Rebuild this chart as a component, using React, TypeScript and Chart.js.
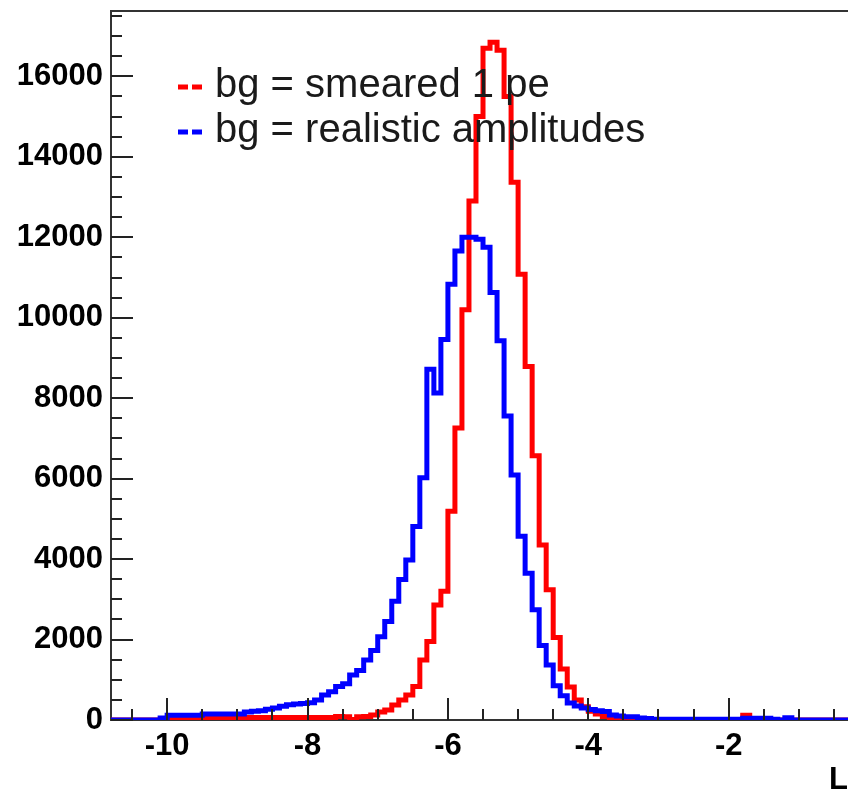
import React, { useEffect, useRef } from "react";
import { Chart, registerables } from "chart.js";

Chart.register(...registerables);

// Histogram binning (lower edge of first bin, bin width)
const HIST_X_MIN = -10.8;
const HIST_BIN_WIDTH = 0.1;

// bg = smeared 1 pe (red), one count per 0.1-wide bin starting at -10.8
const RED_COUNTS = [
  0, 0, 0, 0, 0, 0, 0, 0,
  25, 25, 25, 25, 25,
  60, 60, 60, 60, 60, 60, 60, 60, 60, 60, 60, 60, 60, 60, 60, 60, 60, 60, 60,
  90, 80, 10, 80, 90, 125, 200, 250, 370, 500, 620, 830,
  1490, 1950, 2860, 3200, 5190, 7260, 10200, 12900, 15000,
  16700, 16850, 16650, 15500, 13370, 11080, 8790, 6570, 4350, 3240,
  2050, 1270, 820, 500, 330, 220, 150, 90, 60, 20, 10, 0, 30, 30,
  0, 0, 0, 0, 0, 0, 0, 0, 0, 0, 0, 0, 0,
  120, 40,
  0, 0, 0, 0, 0, 0, 0, 0, 0, 0, 0, 0, 0,
];

// bg = realistic amplitudes (blue)
const BLUE_COUNTS = [
  0, 0, 0, 0, 0, 0, 0,
  50,
  120, 120, 120, 120, 120,
  150, 150, 150, 150, 150, 150,
  200, 220, 230, 270, 300, 340, 380, 400, 410,
  430, 500, 620, 700, 830, 900, 1120, 1230, 1490, 1730, 2070, 2450, 2950,
  3490, 3980, 4810, 6020, 8720, 8130, 9460, 10830, 11660,
  12000, 12000, 11950, 11750, 10630, 9430, 7560, 6090, 4570, 3650, 2740,
  1850, 1370, 850, 600, 420, 350, 300, 260, 230, 210, 125, 100, 80, 80, 50, 40,
  20, 20, 20, 20, 20, 20, 20, 20, 20, 20, 20, 20, 20,
  45, 45, 45, 45,
  20, 0, 55,
  0, 0, 0, 0, 0, 0, 0, 0,
];

const SERIES_LABELS = ["bg = smeared 1 pe", "bg = realistic amplitudes"];
const SERIES_COLORS = ["#ff0000", "#0000ff"];

const X_TICKS = [-10, -8, -6, -4, -2];
const Y_TICKS = [0, 2000, 4000, 6000, 8000, 10000, 12000, 14000, 16000];
const X_MINOR_STEP = 0.5;
const Y_MINOR_STEP = 500;
const X_RANGE = [-10.8, -0.3];
const Y_RANGE = [0, 17600];
const X_TITLE = "L";

const AXIS_FONT = { family: "'Liberation Sans', Arial, Helvetica, sans-serif", size: 31, weight: "bold" as const };

function toSteps(counts: number[]) {
  const pts = counts.map((c, i) => ({ x: HIST_X_MIN + i * HIST_BIN_WIDTH, y: c }));
  pts.push({ x: HIST_X_MIN + counts.length * HIST_BIN_WIDTH, y: counts[counts.length - 1] });
  return pts;
}

const rootStylePlugin = {
  id: "rootStyle",
  afterDatasetsDraw(chart: any) {
    const { ctx, chartArea, scales } = chart;
    const xs = scales.x;
    const ys = scales.y;
    ctx.save();
    // top frame
    ctx.strokeStyle = "#333";
    ctx.lineWidth = 2;
    ctx.beginPath();
    ctx.moveTo(chartArea.left - 1, chartArea.top - 1);
    ctx.lineTo(chartArea.right, chartArea.top - 1);
    ctx.stroke();

    // ticks (inside)
    ctx.strokeStyle = "#222";
    ctx.lineWidth = 2;
    const majorLen = 22;
    const minorLen = 11;
    ctx.beginPath();
    const xStart = Math.ceil(xs.min / X_MINOR_STEP) * X_MINOR_STEP;
    for (let v = xStart; v <= xs.max + 1e-9; v += X_MINOR_STEP) {
      const isMajor = X_TICKS.some((t) => Math.abs(t - v) < 1e-6);
      const px = Math.round(xs.getPixelForValue(v));
      ctx.moveTo(px, chartArea.bottom);
      ctx.lineTo(px, chartArea.bottom - (isMajor ? majorLen : minorLen));
    }
    for (let v = 0; v <= ys.max + 1e-9; v += Y_MINOR_STEP) {
      const isMajor = Y_TICKS.some((t) => Math.abs(t - v) < 1e-6);
      const py = Math.round(ys.getPixelForValue(v));
      ctx.moveTo(chartArea.left, py);
      ctx.lineTo(chartArea.left + (isMajor ? majorLen : minorLen), py);
    }
    ctx.stroke();

    // legend
    const lx = chartArea.left + 67;
    const ly = chartArea.top + 75;
    const lineGap = 45;
    SERIES_LABELS.forEach((label, i) => {
      const y = ly + i * lineGap;
      ctx.strokeStyle = SERIES_COLORS[i];
      ctx.lineWidth = 5;
      ctx.setLineDash([10, 4]);
      ctx.beginPath();
      ctx.moveTo(lx, y);
      ctx.lineTo(lx + 24, y);
      ctx.stroke();
      ctx.setLineDash([]);
      ctx.fillStyle = "#1a1a1a";
      ctx.font = "40px 'Liberation Sans', Arial, Helvetica, sans-serif";
      ctx.textBaseline = "alphabetic";
      ctx.textAlign = "left";
      ctx.fillText(label, lx + 37, y + 10);
    });
    ctx.restore();
  },
};

export default function App() {
  const canvasRef = useRef<HTMLCanvasElement | null>(null);

  useEffect(() => {
    const canvas = canvasRef.current;
    if (!canvas) return;
    const chart = new Chart(canvas, {
      type: "line",
      data: {
        datasets: [
          {
            label: SERIES_LABELS[0],
            data: toSteps(RED_COUNTS),
            borderColor: SERIES_COLORS[0],
            borderWidth: 5,
            pointRadius: 0,
            stepped: true,
            fill: false,
            order: 1,
          },
          {
            label: SERIES_LABELS[1],
            data: toSteps(BLUE_COUNTS),
            borderColor: SERIES_COLORS[1],
            borderWidth: 5,
            pointRadius: 0,
            stepped: true,
            fill: false,
            order: 0,
          },
        ],
      },
      options: {
        animation: false,
        responsive: false,
        maintainAspectRatio: false,
        devicePixelRatio: 1,
        layout: { padding: { top: 12, right: 0, bottom: 0, left: 0 } },
        plugins: { legend: { display: false }, tooltip: { enabled: false } },
        scales: {
          x: {
            type: "linear",
            min: X_RANGE[0],
            max: X_RANGE[1],
            afterBuildTicks: (s: any) => {
              s.ticks = X_TICKS.map((v) => ({ value: v }));
            },
            afterFit: (s: any) => {
              s.height = 74;
              s.paddingLeft = 0;
              s.paddingRight = 0;
              s.paddingTop = 0;
              s.paddingBottom = 0;
            },
            grid: { display: false, drawTicks: false },
            border: { display: true, color: "#333", width: 2 },
            ticks: {
              font: AXIS_FONT,
              color: "#000",
              padding: 8,
              maxRotation: 0,
              autoSkip: false,
              callback: (v: any) => String(v),
            },
            title: {
              display: true,
              text: X_TITLE,
              align: "end",
              color: "#000",
              font: AXIS_FONT,
              padding: { top: 0, bottom: -5 },
            },
          },
          y: {
            type: "linear",
            min: Y_RANGE[0],
            max: Y_RANGE[1],
            afterBuildTicks: (s: any) => {
              s.ticks = Y_TICKS.map((v) => ({ value: v }));
            },
            afterFit: (s: any) => {
              s.width = 111;
              s.paddingLeft = 0;
              s.paddingRight = 0;
              s.paddingTop = 0;
              s.paddingBottom = 0;
            },
            grid: { display: false, drawTicks: false },
            border: { display: true, color: "#333", width: 2 },
            ticks: {
              font: AXIS_FONT,
              color: "#000",
              padding: 8,
              autoSkip: false,
              callback: (v: any) => String(v),
            },
          },
        },
      },
      plugins: [rootStylePlugin],
    });
    return () => chart.destroy();
  }, []);

  return (
    <div style={{ position: "absolute", left: 0, top: 0, width: 848, height: 794, background: "#fff" }}>
      <canvas ref={canvasRef} width={848} height={794} style={{ width: 848, height: 794, display: "block" }} />
    </div>
  );
}
